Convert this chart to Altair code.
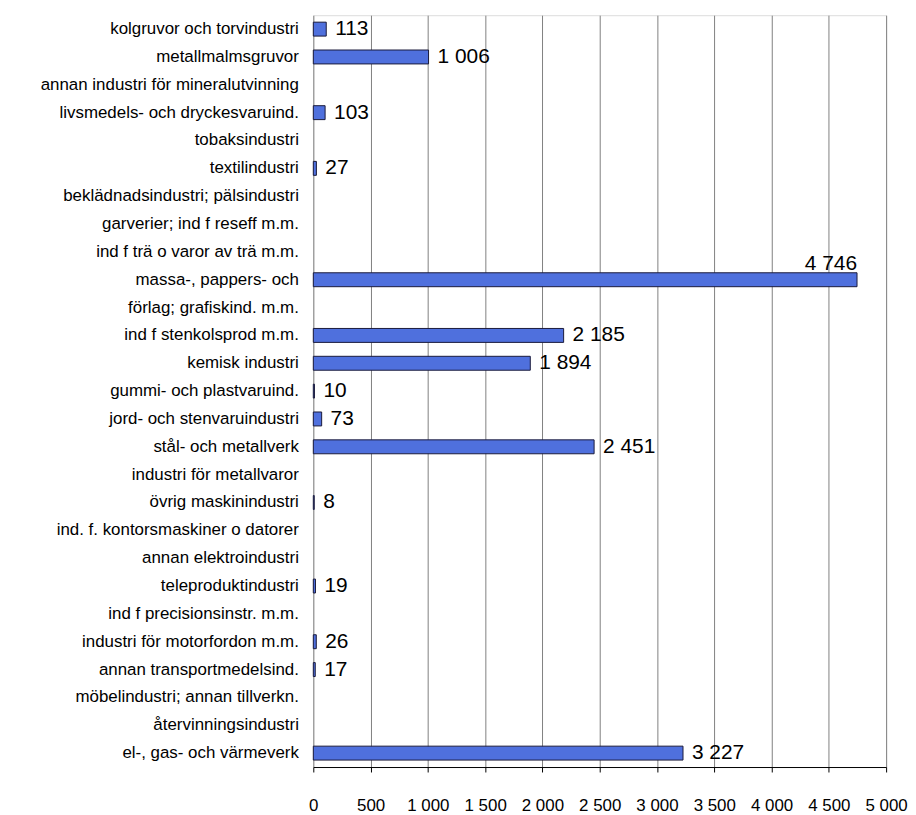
import altair as alt
import pandas as pd

categories = [
    "kolgruvor och torvindustri",
    "metallmalmsgruvor",
    "annan industri för mineralutvinning",
    "livsmedels- och dryckesvaruind.",
    "tobaksindustri",
    "textilindustri",
    "beklädnadsindustri; pälsindustri",
    "garverier; ind f reseff m.m.",
    "ind f trä o varor av trä m.m.",
    "massa-, pappers- och",
    "förlag; grafiskind. m.m.",
    "ind f stenkolsprod m.m.",
    "kemisk industri",
    "gummi- och plastvaruind.",
    "jord- och stenvaruindustri",
    "stål- och metallverk",
    "industri för metallvaror",
    "övrig maskinindustri",
    "ind. f. kontorsmaskiner o datorer",
    "annan elektroindustri",
    "teleproduktindustri",
    "ind f precisionsinstr. m.m.",
    "industri för motorfordon m.m.",
    "annan transportmedelsind.",
    "möbelindustri; annan tillverkn.",
    "återvinningsindustri",
    "el-, gas- och värmeverk",
]
values = [113, 1006, None, 103, None, 27, None, None, None, 4746, None,
          2185, 1894, 10, 73, 2451, None, 8, None, None, 19, None, 26, 17,
          None, None, 3227]
x_ticks = [0, 500, 1000, 1500, 2000, 2500, 3000, 3500, 4000, 4500, 5000]

df = pd.DataFrame({"category": categories, "value": values})

FONT = "Liberation Sans"

y_enc = alt.Y("category:N", sort=categories,
              scale=alt.Scale(paddingInner=0.5, paddingOuter=0.25),
              axis=alt.Axis(title=None, ticks=False, domain=False, labelFontSize=17,
                            labelFont=FONT, labelColor="black", labelPadding=15,
                            minExtent=302, maxExtent=302, labelLimit=400))

x_scale = alt.Scale(domain=[0, 5000], nice=False)

base = alt.Chart(df)

bars = base.mark_bar(color="#4F70DD", stroke="#1a1a3a", strokeWidth=1).encode(
    x=alt.X("value:Q", scale=x_scale,
            axis=alt.Axis(title=None, values=x_ticks, grid=True, gridColor="#808080",
                          gridWidth=1, tickColor="black", tickSize=5, domainColor="black",
                          labelFontSize=17, labelFont=FONT, labelColor="black",
                          labelPadding=26, labelOverlap=False, labelFlush=False,
                          labelExpr="replace(format(datum.value, ','), ',', ' ')")),
    y=y_enc,
)

label_expr = "replace(format(datum.value, ','), ',', ' ')"

labels = base.transform_filter("isValid(datum.value) && datum.value <= 4500").transform_calculate(
    lbl=label_expr
).mark_text(align="left", baseline="middle", dx=9, fontSize=21, font=FONT, color="black").encode(
    x=alt.X("value:Q", scale=x_scale),
    y=alt.Y("category:N", sort=categories),
    text="lbl:N",
)

labels_big = base.transform_filter("isValid(datum.value) && datum.value > 4500").transform_calculate(
    lbl=label_expr
).mark_text(align="right", baseline="middle", dx=0, dy=-16, fontSize=21, font=FONT, color="black").encode(
    x=alt.X("value:Q", scale=x_scale),
    y=alt.Y("category:N", sort=categories),
    text="lbl:N",
)

chart = (bars + labels + labels_big).properties(
    width=576, height=756,
    padding={"left": 5, "top": 5, "right": 0, "bottom": 0},
).configure_view(stroke="black", strokeWidth=1).configure(background="white")

chart.save("out.html", embed_options={"renderer": "svg", "actions": False})
